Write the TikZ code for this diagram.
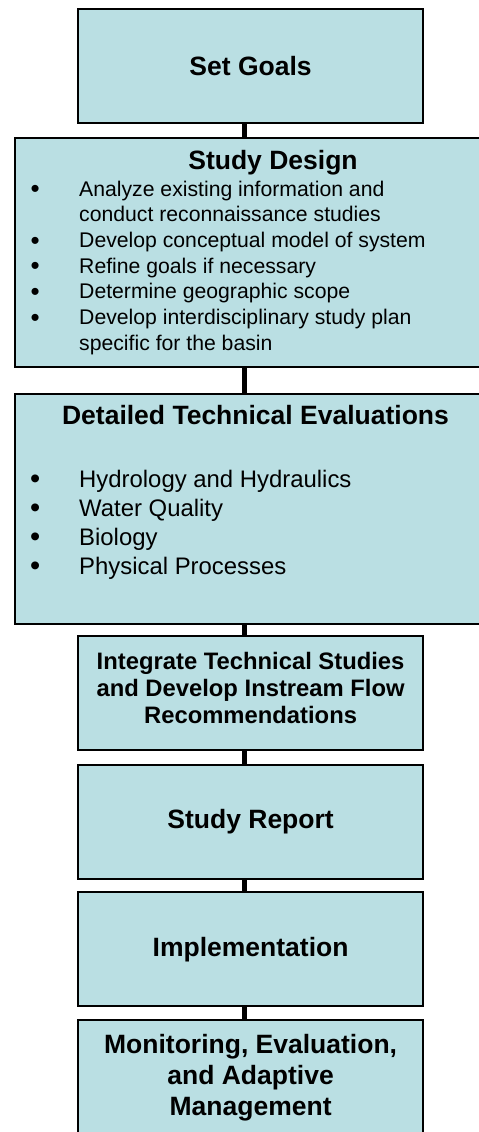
\documentclass[tikz,border=0pt]{standalone}
\usepackage{fontspec}
\setmainfont{Liberation Sans}
\usepackage{tikz}

\definecolor{stagefill}{RGB}{186,223,227}

% larger list bullet, lowered to sit on the text's x-height
\newcommand{\bigblt}[2]{\raisebox{-#2}{\fontsize{#1}{#1}\selectfont\textbullet}}

\tikzset{
  stage/.style={draw=black, line width=2pt, fill=stagefill, inner sep=0pt,
                minimum width=344.7pt, minimum height=114pt, align=center},
  bigstage/.style={draw=black, line width=2pt, fill=stagefill, inner sep=0pt,
                   minimum width=520pt, minimum height=#1, anchor=north west},
  titlefont/.style={font=\fontsize{26.5}{31}\selectfont\bfseries},
  link/.style={line width=5pt, draw=black}
}

\begin{document}
\begin{tikzpicture}[x=1pt, y=-1pt]
    \useasboundingbox (0, 0) rectangle (479, 1132);
    \coordinate (spine) at (244.5, 0);

    % the stages
    \node[stage, titlefont] (goals) at (250.6, 66) {Set Goals};
    \node[bigstage=228.7pt] (design) at (14.3, 137) {};
    \node[bigstage=230pt] (detailed) at (14.3, 393) {};
    \node[stage, font=\fontsize{23.8}{27}\selectfont\bfseries, text depth=10pt] (integrate)
        at (250.6, 693) {Integrate Technical Studies\\and Develop Instream Flow\\Recommendations};
    \node[stage, titlefont] (report) at (250.6, 821.7) {Study Report};
    \node[stage, titlefont] (impl) at (250.6, 949.3) {Implementation};
    \node[stage, titlefont] (monitor) at (250.6, 1077.3)
        {Monitoring, Evaluation,\\and Adaptive\\Management};

    % contents of the two wide boxes
    \node[titlefont, anchor=base, inner sep=0pt] (designtitle) at (273, 169.5) {Study Design};
    \node[anchor=base west, inner sep=0pt, font=\fontsize{21.2}{25.7}\selectfont]
        (designlist) at (30.4, 196) {%
        \begin{tabular}[t]{@{}p{48.6pt}@{}l@{}}
          \bigblt{26}{1.8pt} & Analyze existing information and\\
                             & conduct reconnaissance studies\\
          \bigblt{26}{1.8pt} & Develop conceptual model of system\\
          \bigblt{26}{1.8pt} & Refine goals if necessary\\
          \bigblt{26}{1.8pt} & Determine geographic scope\\
          \bigblt{26}{1.8pt} & Develop interdisciplinary study plan\\
                             & specific for the basin
        \end{tabular}};

    \node[titlefont, anchor=base, inner sep=0pt] (detailedtitle) at (255.5, 424) {Detailed Technical Evaluations};
    \node[anchor=base west, inner sep=0pt, font=\fontsize{23.9}{29}\selectfont]
        (detailedlist) at (29.9, 487) {%
        \begin{tabular}[t]{@{}p{49.1pt}@{}l@{}}
          \bigblt{29}{1.9pt} & Hydrology and Hydraulics\\
          \bigblt{29}{1.9pt} & Water Quality\\
          \bigblt{29}{1.9pt} & Biology\\
          \bigblt{29}{1.9pt} & Physical Processes
        \end{tabular}};

    % connectors
    \foreach \a/\b in {goals/design, design/detailed, detailed/integrate,
                       integrate/report, report/impl, impl/monitor}
      \draw[link] (spine |- \a.south) -- (spine |- \b.north);
  \end{tikzpicture}
\end{document}
